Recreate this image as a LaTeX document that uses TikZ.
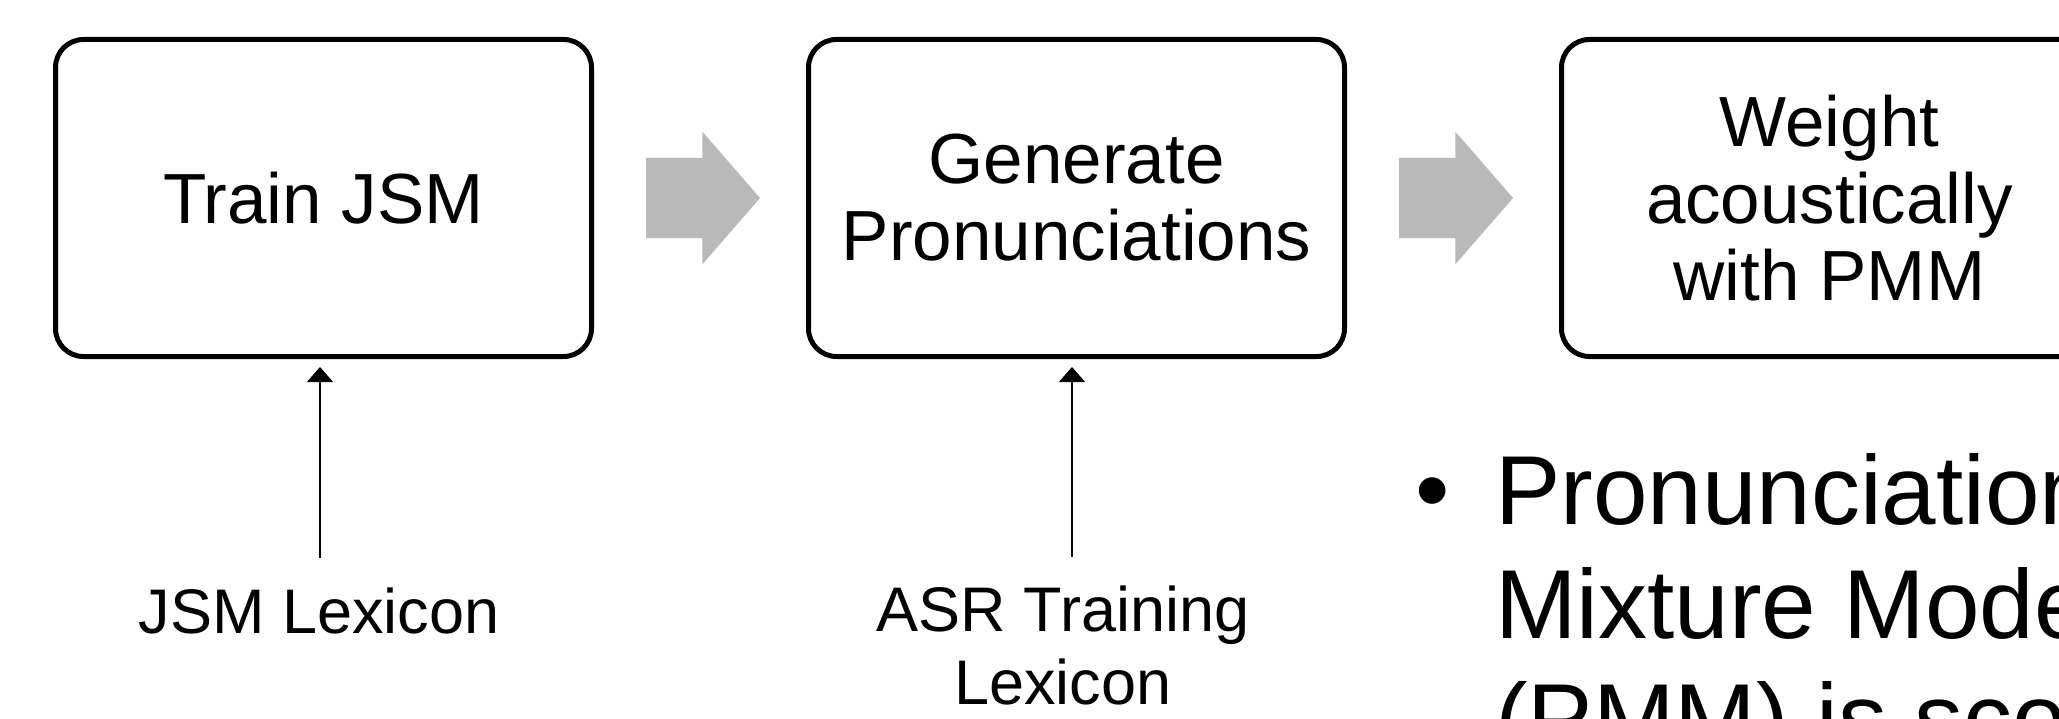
\documentclass[tikz,border=0pt]{standalone}
\usepackage{fontspec}
\setmainfont{Liberation Sans}
\usetikzlibrary{positioning,arrows.meta,shapes.arrows}
\definecolor{flowGrey}{HTML}{B9B9B9}
\definecolor{stageLine}{HTML}{000000}
\tikzset{
  stage/.style={
    draw=stageLine, line width=5pt, fill=white, rounded corners=28pt,
    minimum width=#1, minimum height=317pt, align=center, inner sep=0pt,
    font=\fontsize{71}{77}\selectfont},
  stage/.default=536pt,
  flow/.style={
    single arrow, fill=flowGrey, draw=none, inner xsep=0pt, inner ysep=40pt,
    outer sep=0pt, minimum height=114pt,
    single arrow head extend=26pt, single arrow tip angle=98},
  source/.style={align=center, inner sep=0pt, font=\fontsize{63}{73}\selectfont},
  feed/.style={draw=stageLine, line width=1.5pt,
    -{Triangle[width=26pt, length=15pt]}, shorten <=29pt, shorten >=8pt},
  note/.style={align=left, inner sep=0pt, font=\fontsize{98}{114}\selectfont},
}

\begin{document}
\begin{tikzpicture}[x=1pt, y=-1pt]

\useasboundingbox[fill=white] (0,0) rectangle (2059,719);

% the three stages
\node[stage] (train) at (323.5,198) {Train JSM};
\node[stage, right=212pt of train] (gen) {Generate\\ Pronunciations};
\node[stage, right=212pt of gen] (weight) {Weight\\ acoustically\\ with PMM};

\node[flow, right=52pt of train] (g1) {};
\node[flow, right=52pt of gen] (g2) {};

% inputs
\node[source, anchor=base] (jsmlex) at (319,633) {JSM Lexicon};
\node[source, anchor=north] (asrlex) at (1063,586) {ASR Training\\ Lexicon};

\coordinate (trainin) at ([xshift=-3.5pt]train.south);
\coordinate (genin) at ([xshift=-4.5pt]gen.south);
\draw[feed] (jsmlex.north -| trainin) -- (trainin);
\draw[feed] (asrlex.north -| genin) -- (genin);

% bullet text, cut by the right edge
\node[note, anchor=north west] (pmm) at (1495,453)
  {Pronunciation\\ Mixture Model\\ (PMM) is scor};
\node[note, anchor=base] (dot) at (1433,523) {\textbullet};

\end{tikzpicture}
\end{document}
